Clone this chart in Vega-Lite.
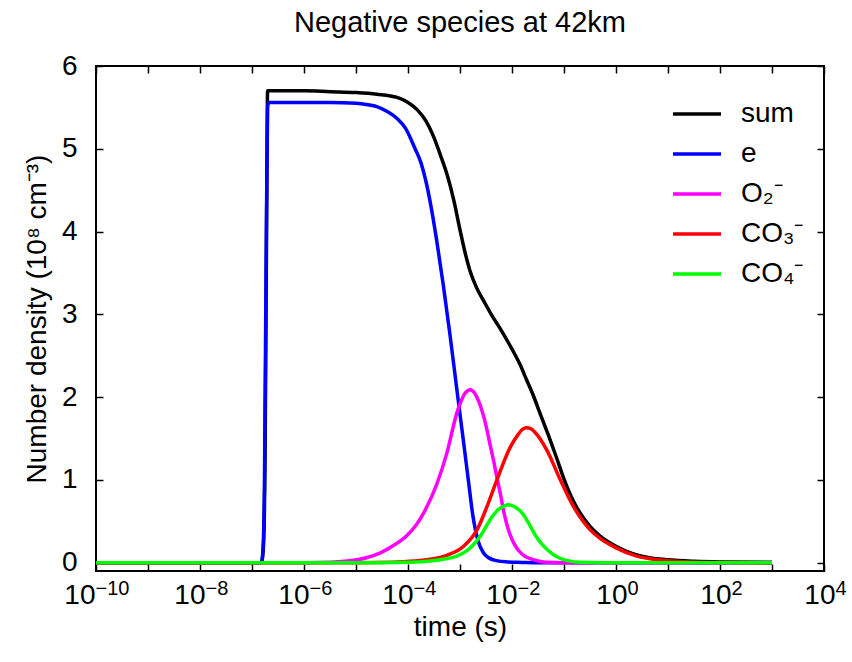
{
  "$schema": "https://vega.github.io/schema/vega-lite/v6.json",
  "width": 728,
  "height": 505,
  "autosize": {"type": "none"},
  "padding": {"left": 96, "top": 66, "right": 28, "bottom": 91},
  "background": "white",
  "title": {"text": "Negative species at 42km", "fontSize": 29, "font": "Liberation Sans", "fontWeight": "normal", "color": "black", "offset": 14, "anchor": "middle"},
  "config": {"view": {"stroke": "black", "strokeWidth": 2}, "font": "Liberation Sans"},
  "data": {"values": [
    {"s": "sum", "t": 1e-10, "v": 0},
    {"s": "sum", "t": 1.514e-7, "v": 0},
    {"s": "sum", "t": 1.660e-7, "v": 0.2},
    {"s": "sum", "t": 1.778e-7, "v": 1.2},
    {"s": "sum", "t": 1.905e-7, "v": 4.0},
    {"s": "sum", "t": 1.995e-7, "v": 5.70},
    {"s": "sum", "t": 1e-6, "v": 5.70},
    {"s": "sum", "t": 3.162e-6, "v": 5.69},
    {"s": "sum", "t": 1e-5, "v": 5.68},
    {"s": "sum", "t": 2.512e-5, "v": 5.66},
    {"s": "sum", "t": 6.166e-5, "v": 5.62},
    {"s": "sum", "t": 1e-4, "v": 5.56},
    {"s": "sum", "t": 1.514e-4, "v": 5.47},
    {"s": "sum", "t": 2.239e-4, "v": 5.33},
    {"s": "sum", "t": 3.090e-4, "v": 5.15},
    {"s": "sum", "t": 4.169e-4, "v": 4.93},
    {"s": "sum", "t": 5.754e-4, "v": 4.67},
    {"s": "sum", "t": 7.586e-4, "v": 4.38},
    {"s": "sum", "t": 1e-3, "v": 4.02},
    {"s": "sum", "t": 1.259e-3, "v": 3.74},
    {"s": "sum", "t": 1.549e-3, "v": 3.53},
    {"s": "sum", "t": 2.089e-3, "v": 3.32},
    {"s": "sum", "t": 2.818e-3, "v": 3.17},
    {"s": "sum", "t": 3.981e-3, "v": 3.00},
    {"s": "sum", "t": 5.888e-3, "v": 2.83},
    {"s": "sum", "t": 1e-2, "v": 2.58},
    {"s": "sum", "t": 1.413e-2, "v": 2.40},
    {"s": "sum", "t": 1.905e-2, "v": 2.21},
    {"s": "sum", "t": 2.570e-2, "v": 2.02},
    {"s": "sum", "t": 3.388e-2, "v": 1.82},
    {"s": "sum", "t": 5.012e-2, "v": 1.54},
    {"s": "sum", "t": 7.079e-2, "v": 1.28},
    {"s": "sum", "t": 0.1, "v": 1.01},
    {"s": "sum", "t": 0.1288, "v": 0.84},
    {"s": "sum", "t": 0.1585, "v": 0.72},
    {"s": "sum", "t": 0.1995, "v": 0.61},
    {"s": "sum", "t": 0.3162, "v": 0.44},
    {"s": "sum", "t": 0.5012, "v": 0.32},
    {"s": "sum", "t": 1, "v": 0.20},
    {"s": "sum", "t": 2.089, "v": 0.11},
    {"s": "sum", "t": 4.365, "v": 0.06},
    {"s": "sum", "t": 10, "v": 0.035},
    {"s": "sum", "t": 31.62, "v": 0.018},
    {"s": "sum", "t": 100, "v": 0.01},
    {"s": "sum", "t": 1000, "v": 0.005},

    {"s": "e", "t": 1e-10, "v": 0},
    {"s": "e", "t": 1.514e-7, "v": 0},
    {"s": "e", "t": 1.622e-7, "v": 0.15},
    {"s": "e", "t": 1.738e-7, "v": 1.0},
    {"s": "e", "t": 1.862e-7, "v": 3.5},
    {"s": "e", "t": 1.995e-7, "v": 5.50},
    {"s": "e", "t": 2.089e-7, "v": 5.56},
    {"s": "e", "t": 1e-6, "v": 5.56},
    {"s": "e", "t": 3.162e-6, "v": 5.56},
    {"s": "e", "t": 1e-5, "v": 5.55},
    {"s": "e", "t": 1.380e-5, "v": 5.54},
    {"s": "e", "t": 2.512e-5, "v": 5.51},
    {"s": "e", "t": 3.981e-5, "v": 5.45},
    {"s": "e", "t": 6.310e-5, "v": 5.36},
    {"s": "e", "t": 8.913e-5, "v": 5.25},
    {"s": "e", "t": 1.349e-4, "v": 5.01},
    {"s": "e", "t": 1.778e-4, "v": 4.83},
    {"s": "e", "t": 2.188e-4, "v": 4.62},
    {"s": "e", "t": 2.630e-4, "v": 4.38},
    {"s": "e", "t": 3.548e-4, "v": 3.90},
    {"s": "e", "t": 4.786e-4, "v": 3.35},
    {"s": "e", "t": 6.457e-4, "v": 2.74},
    {"s": "e", "t": 8.710e-4, "v": 2.09},
    {"s": "e", "t": 1.202e-3, "v": 1.40},
    {"s": "e", "t": 1.445e-3, "v": 1.00},
    {"s": "e", "t": 1.778e-3, "v": 0.56},
    {"s": "e", "t": 2.239e-3, "v": 0.26},
    {"s": "e", "t": 2.818e-3, "v": 0.12},
    {"s": "e", "t": 3.548e-3, "v": 0.06},
    {"s": "e", "t": 5.012e-3, "v": 0.025},
    {"s": "e", "t": 7.943e-3, "v": 0.01},
    {"s": "e", "t": 1.585e-2, "v": 0.004},
    {"s": "e", "t": 3.162e-2, "v": 0},
    {"s": "e", "t": 1000, "v": 0},

    {"s": "O₂⁻", "t": 1e-10, "v": 0},
    {"s": "O₂⁻", "t": 1e-6, "v": 0},
    {"s": "O₂⁻", "t": 3.162e-6, "v": 0.005},
    {"s": "O₂⁻", "t": 6.761e-6, "v": 0.02},
    {"s": "O₂⁻", "t": 1.585e-5, "v": 0.06},
    {"s": "O₂⁻", "t": 2.951e-5, "v": 0.12},
    {"s": "O₂⁻", "t": 5.623e-5, "v": 0.22},
    {"s": "O₂⁻", "t": 9.550e-5, "v": 0.33},
    {"s": "O₂⁻", "t": 1.413e-4, "v": 0.45},
    {"s": "O₂⁻", "t": 1.995e-4, "v": 0.60},
    {"s": "O₂⁻", "t": 3.631e-4, "v": 0.96},
    {"s": "O₂⁻", "t": 5.623e-4, "v": 1.33},
    {"s": "O₂⁻", "t": 8.710e-4, "v": 1.81},
    {"s": "O₂⁻", "t": 1.047e-3, "v": 1.95},
    {"s": "O₂⁻", "t": 1.259e-3, "v": 2.05},
    {"s": "O₂⁻", "t": 1.585e-3, "v": 2.09},
    {"s": "O₂⁻", "t": 1.905e-3, "v": 2.05},
    {"s": "O₂⁻", "t": 2.291e-3, "v": 1.95},
    {"s": "O₂⁻", "t": 2.818e-3, "v": 1.78},
    {"s": "O₂⁻", "t": 3.311e-3, "v": 1.60},
    {"s": "O₂⁻", "t": 3.802e-3, "v": 1.42},
    {"s": "O₂⁻", "t": 4.467e-3, "v": 1.22},
    {"s": "O₂⁻", "t": 5.129e-3, "v": 1.03},
    {"s": "O₂⁻", "t": 6.026e-3, "v": 0.82},
    {"s": "O₂⁻", "t": 6.918e-3, "v": 0.62},
    {"s": "O₂⁻", "t": 8.318e-3, "v": 0.42},
    {"s": "O₂⁻", "t": 1e-2, "v": 0.28},
    {"s": "O₂⁻", "t": 1.259e-2, "v": 0.17},
    {"s": "O₂⁻", "t": 1.660e-2, "v": 0.09},
    {"s": "O₂⁻", "t": 2.818e-2, "v": 0.03},
    {"s": "O₂⁻", "t": 4.677e-2, "v": 0.005},
    {"s": "O₂⁻", "t": 0.1, "v": 0},
    {"s": "O₂⁻", "t": 1000, "v": 0},

    {"s": "CO₃⁻", "t": 1e-10, "v": 0},
    {"s": "CO₃⁻", "t": 1e-5, "v": 0},
    {"s": "CO₃⁻", "t": 5.012e-5, "v": 0.005},
    {"s": "CO₃⁻", "t": 1.288e-4, "v": 0.02},
    {"s": "CO₃⁻", "t": 2.818e-4, "v": 0.045},
    {"s": "CO₃⁻", "t": 5.623e-4, "v": 0.09},
    {"s": "CO₃⁻", "t": 1.175e-3, "v": 0.20},
    {"s": "CO₃⁻", "t": 2.138e-3, "v": 0.40},
    {"s": "CO₃⁻", "t": 3.311e-3, "v": 0.68},
    {"s": "CO₃⁻", "t": 5.129e-3, "v": 1.00},
    {"s": "CO₃⁻", "t": 9.333e-3, "v": 1.40},
    {"s": "CO₃⁻", "t": 1.318e-2, "v": 1.55},
    {"s": "CO₃⁻", "t": 1.585e-2, "v": 1.61},
    {"s": "CO₃⁻", "t": 1.905e-2, "v": 1.63},
    {"s": "CO₃⁻", "t": 2.291e-2, "v": 1.62},
    {"s": "CO₃⁻", "t": 2.818e-2, "v": 1.57},
    {"s": "CO₃⁻", "t": 4.677e-2, "v": 1.36},
    {"s": "CO₃⁻", "t": 8.511e-2, "v": 1.00},
    {"s": "CO₃⁻", "t": 0.1514, "v": 0.68},
    {"s": "CO₃⁻", "t": 0.2399, "v": 0.49},
    {"s": "CO₃⁻", "t": 0.3162, "v": 0.40},
    {"s": "CO₃⁻", "t": 0.5012, "v": 0.29},
    {"s": "CO₃⁻", "t": 1, "v": 0.18},
    {"s": "CO₃⁻", "t": 2.512, "v": 0.08},
    {"s": "CO₃⁻", "t": 6.310, "v": 0.035},
    {"s": "CO₃⁻", "t": 19.95, "v": 0.012},
    {"s": "CO₃⁻", "t": 100, "v": 0.003},
    {"s": "CO₃⁻", "t": 1000, "v": 0},

    {"s": "CO₄⁻", "t": 1e-10, "v": 0},
    {"s": "CO₄⁻", "t": 3.162e-5, "v": 0},
    {"s": "CO₄⁻", "t": 1e-4, "v": 0.005},
    {"s": "CO₄⁻", "t": 2.692e-4, "v": 0.02},
    {"s": "CO₄⁻", "t": 5.012e-4, "v": 0.045},
    {"s": "CO₄⁻", "t": 8.710e-4, "v": 0.08},
    {"s": "CO₄⁻", "t": 1.585e-3, "v": 0.18},
    {"s": "CO₄⁻", "t": 2.455e-3, "v": 0.32},
    {"s": "CO₄⁻", "t": 3.802e-3, "v": 0.52},
    {"s": "CO₄⁻", "t": 5.623e-3, "v": 0.65},
    {"s": "CO₄⁻", "t": 6.918e-3, "v": 0.68},
    {"s": "CO₄⁻", "t": 8.318e-3, "v": 0.70},
    {"s": "CO₄⁻", "t": 1e-2, "v": 0.69},
    {"s": "CO₄⁻", "t": 1.202e-2, "v": 0.665},
    {"s": "CO₄⁻", "t": 1.413e-2, "v": 0.63},
    {"s": "CO₄⁻", "t": 1.660e-2, "v": 0.58},
    {"s": "CO₄⁻", "t": 1.995e-2, "v": 0.50},
    {"s": "CO₄⁻", "t": 2.399e-2, "v": 0.41},
    {"s": "CO₄⁻", "t": 2.818e-2, "v": 0.33},
    {"s": "CO₄⁻", "t": 3.388e-2, "v": 0.26},
    {"s": "CO₄⁻", "t": 4.074e-2, "v": 0.20},
    {"s": "CO₄⁻", "t": 5.623e-2, "v": 0.12},
    {"s": "CO₄⁻", "t": 7.413e-2, "v": 0.07},
    {"s": "CO₄⁻", "t": 0.1259, "v": 0.022},
    {"s": "CO₄⁻", "t": 0.2138, "v": 0.005},
    {"s": "CO₄⁻", "t": 0.5012, "v": 0},
    {"s": "CO₄⁻", "t": 1000, "v": 0}
  ]},
  "layer": [
    {
      "mark": {"type": "line", "strokeWidth": 3.5, "interpolate": "monotone", "clip": true},
      "encoding": {
        "x": {
          "field": "t", "type": "quantitative",
          "scale": {"type": "log", "domain": [1e-10, 10000], "nice": false},
          "axis": {
            "orient": "bottom",
            "values": [1e-10, 1e-9, 1e-8, 1e-7, 1e-6, 1e-5, 1e-4, 1e-3, 1e-2, 1e-1, 1, 10, 100, 1000, 10000],
            "labelExpr": "(round(log(datum.value)/LN10) % 2 == 0) ? '10' : ''",
            "labelAlign": "right",
            "labelOffset": {"condition": [{"test": "datum.value < 1e-9", "value": -1}, {"test": "datum.value < 0.5", "value": 5}], "value": 11},
            "labelFontSize": 28, "labelFont": "Liberation Sans", "labelColor": "black",
            "tickColor": "black", "tickSize": -7, "tickWidth": 1.5, "labelPadding": 17,
            "domain": false, "grid": false, "labelFlush": false, "labelOverlap": false,
            "title": "time (s)", "titleFontSize": 28, "titleFont": "Liberation Sans", "titleFontWeight": "normal", "titleColor": "black", "titlePadding": 4
          }
        },
        "y": {
          "field": "v", "type": "quantitative",
          "scale": {"domain": [-0.1, 6], "nice": false, "zero": false},
          "axis": {
            "orient": "left",
            "values": [0, 1, 2, 3, 4, 5, 6],
            "labelFontSize": 28, "labelFont": "Liberation Sans", "labelColor": "black",
            "tickColor": "black", "tickSize": -7, "tickWidth": 1.5, "labelPadding": 26,
            "domain": false, "grid": false, "labelFlush": false,
            "title": "Number density (10⁸ cm⁻³)", "titleFontSize": 28, "titleFont": "Liberation Sans", "titleFontWeight": "normal", "titleColor": "black", "titlePadding": 10
          }
        },
        "color": {
          "field": "s", "type": "nominal",
          "scale": {"domain": ["sum", "e", "O₂⁻", "CO₃⁻", "CO₄⁻"], "range": ["#000000", "#0000ff", "#ff00ff", "#ff0000", "#00ff00"]},
          "legend": {
            "orient": "none", "legendX": 575, "legendY": 22, "title": null,
            "symbolType": "stroke", "symbolSize": 2304, "symbolStrokeWidth": 3.5,
            "labelFontSize": 28, "labelFont": "Liberation Sans", "labelColor": "black",
            "labelOffset": 18, "rowPadding": -7, "labelLimit": 0, "padding": 0
          }
        }
      }
    },
    {
      "mark": {"type": "point", "opacity": 0},
      "encoding": {
        "x": {
          "field": "t", "type": "quantitative",
          "axis": {
            "orient": "top", "labels": false, "title": null,
            "values": [1e-10, 1e-9, 1e-8, 1e-7, 1e-6, 1e-5, 1e-4, 1e-3, 1e-2, 1e-1, 1, 10, 100, 1000, 10000],
            "tickColor": "black", "tickSize": -7, "tickWidth": 1.5, "domain": false, "grid": false
          }
        },
        "y": {
          "field": "v", "type": "quantitative",
          "axis": {
            "orient": "right", "labels": false, "title": null,
            "values": [0, 1, 2, 3, 4, 5, 6],
            "tickColor": "black", "tickSize": -7, "tickWidth": 1.5, "domain": false, "grid": false
          }
        }
      }
    },
    {
      "mark": {"type": "point", "opacity": 0},
      "encoding": {
        "x": {
          "field": "t", "type": "quantitative",
          "axis": {
            "orient": "bottom", "title": null, "ticks": false, "domain": false, "grid": false,
            "values": [1e-10, 1e-8, 1e-6, 1e-4, 1e-2, 1, 100, 10000],
            "labelExpr": "replace(format(round(log(datum.value)/LN10), 'd'), '-', '−')",
            "labelAlign": "left",
            "labelOffset": {"condition": [{"test": "datum.value < 1e-9", "value": -1}, {"test": "datum.value < 0.5", "value": 5}], "value": 11},
            "labelFontSize": 20, "labelFont": "Liberation Sans", "labelColor": "black",
            "labelPadding": 7, "labelFlush": false, "labelOverlap": false
          }
        }
      }
    }
  ],
  "resolve": {"axis": {"x": "independent", "y": "independent"}}
}
